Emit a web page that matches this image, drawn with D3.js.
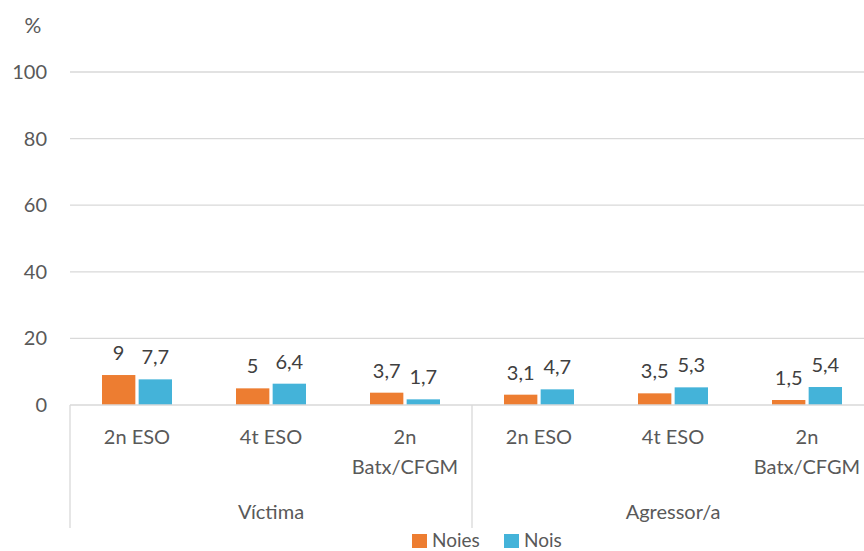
<!DOCTYPE html>
<html>
<head>
<meta charset="utf-8">
<script src="https://cdn.jsdelivr.net/npm/d3@7"></script>
<style>
  body { margin: 0; background: #fff; overflow: hidden; }
  text { font-family: Lato, "Open Sans", sans-serif; }
</style>
</head>
<body>
<div id="chart"></div>
<script>
// data
const groups = ["Víctima", "Agressor/a"];
const levels = ["2n ESO", "4t ESO", "2n Batx/CFGM"];
const noies = [9, 5, 3.7, 3.1, 3.5, 1.5];
const nois = [7.7, 6.4, 1.7, 4.7, 5.3, 5.4];
const yTicks = [0, 20, 40, 60, 80, 100];

const W = 864, H = 551;
const margin = {top: 72, left: 70};
const cats = d3.range(groups.length * levels.length);

const svg = d3.select("#chart").append("svg")
  .attr("width", W).attr("height", H);

// plot runs a bit past the right edge, like the original
const x = d3.scaleBand().domain(cats).range([margin.left, margin.left + 6 * 134]);
const y = d3.scaleLinear().domain([0, 100]).range([405, margin.top]);
const inner = d3.scaleBand().domain(["noies", "nois"]).range([0, 70]).paddingInner(0.09);

const colors = {noies: "#ED7D31", nois: "#44B3D9"};
const fmt = v => String(v).replace(".", ",");
const FS = 20;

// gridlines
svg.append("g").selectAll("line").data(yTicks.slice(1)).join("line")
  .attr("x1", margin.left).attr("x2", W)
  .attr("y1", d => y(d)).attr("y2", d => y(d))
  .attr("stroke", "#d9d9d9").attr("stroke-width", 1.3);

// y tick labels
svg.append("g").selectAll("text").data(yTicks).join("text")
  .attr("x", 47).attr("y", d => y(d))
  .attr("dy", "0.35em").attr("text-anchor", "end")
  .attr("font-size", FS).attr("fill", "#595959")
  .text(d => d);

svg.append("text").attr("x", 33).attr("y", 33)
  .attr("text-anchor", "middle").attr("font-size", 21).attr("fill", "#595959").text("%");

// bars
const bars = svg.append("g");
cats.forEach(i => {
  const x0 = x(i) + (x.bandwidth() - 70) / 2;
  [["noies", noies[i]], ["nois", nois[i]]].forEach(([k, v]) => {
    bars.append("rect")
      .attr("x", x0 + inner(k)).attr("width", inner.bandwidth())
      .attr("y", y(v)).attr("height", y(0) - y(v))
      .attr("fill", colors[k]);
    bars.append("text")
      .attr("x", x0 + inner(k) + inner.bandwidth() / 2)
      .attr("y", y(v) - 15)
      .attr("text-anchor", "middle").attr("font-size", FS).attr("fill", "#404040")
      .text(fmt(v));
  });
});

// x axis line + separators
svg.append("line").attr("x1", margin.left).attr("x2", W)
  .attr("y1", y(0)).attr("y2", y(0)).attr("stroke", "#d9d9d9").attr("stroke-width", 1.3);
[0, levels.length].forEach(i => {
  svg.append("line").attr("x1", x(i)).attr("x2", x(i))
    .attr("y1", y(0)).attr("y2", 528).attr("stroke", "#d9d9d9").attr("stroke-width", 1.3);
});

// category labels
cats.forEach(i => {
  const lab = levels[i % levels.length];
  const lines = lab === "2n Batx/CFGM" ? ["2n", "Batx/CFGM"] : [lab];
  const t = svg.append("text").attr("text-anchor", "middle")
    .attr("font-size", FS).attr("fill", "#595959");
  lines.forEach((l, j) => {
    t.append("tspan").attr("x", x(i) + x.bandwidth() / 2)
      .attr("y", 444 + j * 30).text(l);
  });
});

// group labels
groups.forEach((g, gi) => {
  const a = x(gi * levels.length), b = x(gi * levels.length + levels.length - 1) + x.bandwidth();
  svg.append("text").attr("x", (a + b) / 2).attr("y", 519)
    .attr("text-anchor", "middle").attr("font-size", FS).attr("fill", "#595959").text(g);
});

// legend
const legend = svg.append("g");
[["noies", "Noies", 412], ["nois", "Nois", 504]].forEach(([k, label, lx]) => {
  legend.append("rect").attr("x", lx).attr("y", 534).attr("width", 15).attr("height", 14)
    .attr("fill", colors[k]);
  legend.append("text").attr("x", lx + 20).attr("y", 547)
    .attr("font-size", 19).attr("fill", "#595959").text(label);
});
</script>
</body>
</html>
